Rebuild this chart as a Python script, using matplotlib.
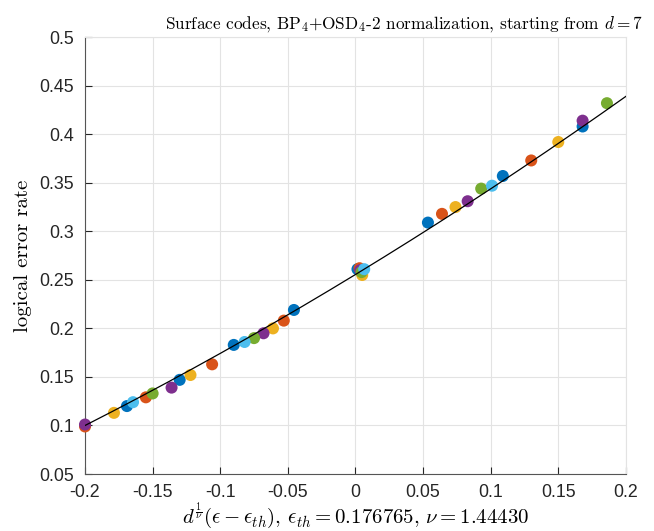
import numpy as np
import matplotlib.pyplot as plt

plt.rcParams['mathtext.fontset'] = 'cm'
plt.rcParams['font.family'] = ['Liberation Sans', 'DejaVu Sans']

# MATLAB default colour order
BLUE = '#0072BD'
ORANGE = '#D95319'
YELLOW = '#EDB120'
PURPLE = '#7E2F8E'
GREEN = '#77AC30'
LBLUE = '#4DBEEE'

# rescaled error rate / logical error rate, one list per colour
x_blue = [-0.169, -0.130, -0.090, -0.0455, 0.0015, 0.0536, 0.109, 0.168]
y_blue = [0.120, 0.147, 0.183, 0.219, 0.261, 0.309, 0.357, 0.408]
x_orange = [-0.200, -0.155, -0.106, -0.053, 0.0030, 0.064, 0.130]
y_orange = [0.099, 0.129, 0.163, 0.208, 0.262, 0.318, 0.373]
x_yellow = [-0.1786, -0.122, -0.061, 0.0050, 0.074, 0.150]
y_yellow = [0.113, 0.152, 0.200, 0.255, 0.325, 0.392]
x_purple = [-0.200, -0.136, -0.068, 0.0035, 0.083, 0.168]
y_purple = [0.101, 0.139, 0.195, 0.260, 0.331, 0.414]
x_green = [-0.150, -0.075, 0.0045, 0.093, 0.186]
y_green = [0.133, 0.190, 0.258, 0.344, 0.432]
x_lblue = [-0.1645, -0.082, 0.0065, 0.101]
y_lblue = [0.124, 0.186, 0.261, 0.347]

# quadratic fit coefficients (highest power first)
fit_coef = [0.35, 0.8475, 0.2555]

series = [
    (x_blue, y_blue, BLUE),
    (x_orange, y_orange, ORANGE),
    (x_yellow, y_yellow, YELLOW),
    (x_purple, y_purple, PURPLE),
    (x_green, y_green, GREEN),
    (x_lblue, y_lblue, LBLUE),
]

xticks = [-0.2, -0.15, -0.1, -0.05, 0, 0.05, 0.1, 0.15, 0.2]
xticklabels = ['-0.2', '-0.15', '-0.1', '-0.05', '0', '0.05', '0.1', '0.15', '0.2']
yticks = [0.05, 0.1, 0.15, 0.2, 0.25, 0.3, 0.35, 0.4, 0.45, 0.5]
yticklabels = ['0.05', '0.1', '0.15', '0.2', '0.25', '0.3', '0.35', '0.4', '0.45', '0.5']

fig = plt.figure(figsize=(6.54, 5.31), dpi=100)
ax = fig.add_axes([0.13, 0.1073, 0.827, 0.8227])

for xs, ys, c in series:
    ax.scatter(xs, ys, s=75, color=c, edgecolors='none', zorder=3, clip_on=False)

xf = np.linspace(-0.2, 0.2, 200)
ax.plot(xf, np.polyval(fit_coef, xf), color='black', lw=0.9, zorder=4)

ax.set_xlim(-0.2, 0.2)
ax.set_ylim(0.05, 0.5)
ax.set_xticks(xticks)
ax.set_xticklabels(xticklabels)
ax.set_yticks(yticks)
ax.set_yticklabels(yticklabels)
ax.tick_params(direction='in', labelsize=12.8, colors='#262626', length=5, width=0.8)
ax.tick_params(axis='x', pad=7)
ax.tick_params(axis='y', pad=8)
ax.grid(True, color='#e3e3e3', lw=0.8)
ax.set_axisbelow(True)
for side in ['top', 'right']:
    ax.spines[side].set_color('#e3e3e3')
for side in ['left', 'bottom']:
    ax.spines[side].set_color('#555555')

ax.set_title(r'Surface codes, BP$_4$+OSD$_4$-2 normalization, starting from $d=7$',
             fontdict={'family': 'cmr10', 'size': 12.4}, x=0.59, pad=6)
ax.set_xlabel(r'$d^{\frac{1}{\nu}}(\epsilon-\epsilon_{th})$, $\epsilon_{th}=0.176765$, $\nu=1.44430$',
              fontdict={'family': 'cmr10', 'size': 15}, labelpad=-0.5)
ax.set_ylabel('logical error rate', fontdict={'family': 'cmr10', 'size': 15}, labelpad=5)

fig.savefig('out.png', dpi=100)
